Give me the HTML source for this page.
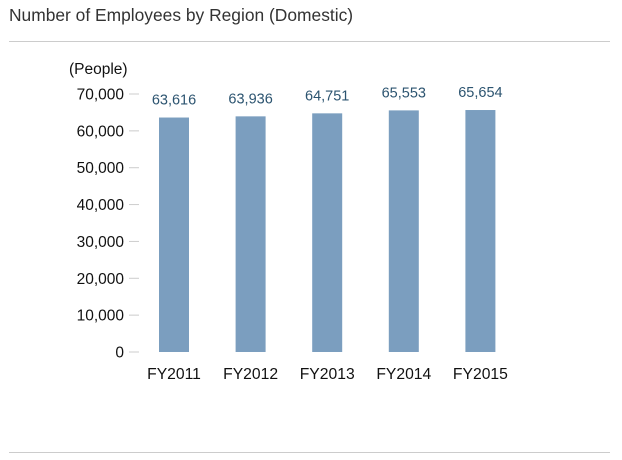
<!DOCTYPE html>
<html><head><meta charset="utf-8"><style>
body{margin:0;background:#fff;font-family:"Liberation Sans",Arial,sans-serif;}
svg text{font-family:"Liberation Sans",Arial,sans-serif;}
</style></head><body>
<svg width="622" height="455" viewBox="0 0 622 455">
<text x="9" y="21" font-size="17.4" fill="#333">Number of Employees by Region (Domestic)</text>
<line x1="9" y1="41.5" x2="610" y2="41.5" stroke="#ccc"/>
<line x1="9" y1="452.5" x2="610" y2="452.5" stroke="#ccc"/>
<text x="69" y="74" font-size="15.5" fill="#111">(People)</text>
<g id="axis"></g><g id="bars"></g>
</svg>
<script>
const categories=["FY2011","FY2012","FY2013","FY2014","FY2015"];
const values=[63616,63936,64751,65553,65654];
const valueLabels=["63,616","63,936","64,751","65,553","65,654"];
const ticks=[0,10000,20000,30000,40000,50000,60000,70000];
const tickLabels=["0","10,000","20,000","30,000","40,000","50,000","60,000","70,000"];
const NS="http://www.w3.org/2000/svg";
const y=v=>352-v*(258/70000);
const x=i=>174+i*76.6;
function mk(t,a,p){const e=document.createElementNS(NS,t);for(const k in a)e.setAttribute(k,a[k]);p.appendChild(e);return e;}
const ax=document.getElementById('axis'),bg=document.getElementById('bars');
ticks.forEach((t,i)=>{
 const l=mk('line',{x1:129,x2:139,y1:y(t),y2:y(t),stroke:'#ccc'},ax);
 
 
 const tx=mk('text',{x:124,y:y(t)+5.5,'font-size':15.5,fill:'#111','text-anchor':'end'},ax);
 tx.textContent=tickLabels[i];
 
 
});
categories.forEach((c,i)=>{
 const r=mk('rect',{x:x(i)-15,y:y(values[i]),width:30,height:352-y(values[i]),fill:'#7b9ebf'},bg);
 
 
 const v=mk('text',{x:x(i),y:y(values[i])-13,'font-size':14.5,fill:'#2c5470','text-anchor':'middle'},bg);
 v.textContent=valueLabels[i];
 
 
 const cl=mk('text',{x:x(i),y:379,'font-size':15.7,fill:'#111','text-anchor':'middle'},bg);
 cl.textContent=c;
 
 
});
</script>
</body></html>
